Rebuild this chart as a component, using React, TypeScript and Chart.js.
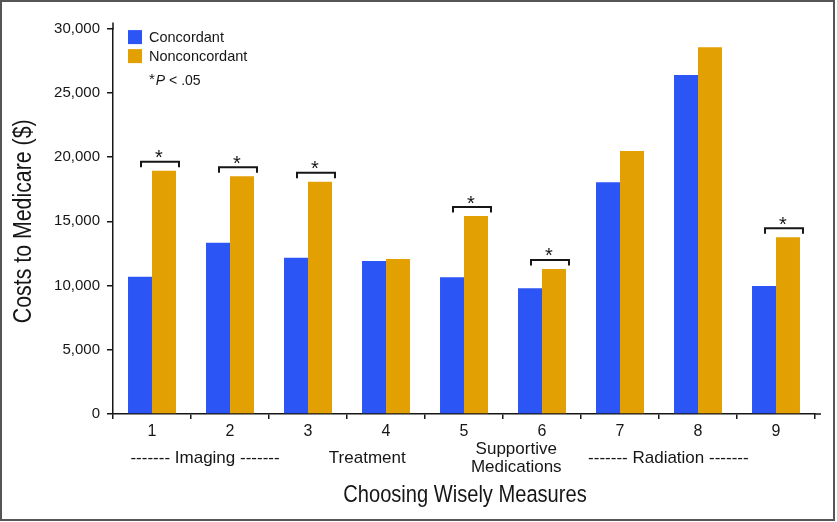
import React, { useEffect, useRef } from "react";
import { Chart, registerables } from "chart.js";
Chart.register(...registerables);

const categories = ["1", "2", "3", "4", "5", "6", "7", "8", "9"];
const concordant = [10690, 13330, 12170, 11910, 10640, 9780, 18040, 26390, 9960];
const nonconcordant = [18940, 18500, 18080, 12070, 15410, 11290, 20470, 28540, 13750];
const significant = [true, true, true, false, true, true, false, false, true];
const yTicks = [0, 5000, 10000, 15000, 20000, 25000, 30000];
const seriesNames = ["Concordant", "Nonconcordant"];
const groupLabels = [["------- Imaging -------"], ["Treatment"], ["Supportive", "Medications"], ["------- Radiation -------"]];
const xTitle = "Choosing Wisely Measures";
const yTitle = "Costs to Medicare ($)";

// layout (category-unit anchors for group labels)
const groupAnchors = [0.68, 2.76, 4.67, 6.62];

const BLUE = "#2C55F5";
const ORANGE = "#E3A002";
const INK = "#161616";
const SANS = "'Liberation Sans', Arial, Helvetica, sans-serif";

function narrowText(ctx: CanvasRenderingContext2D, text: string, x: number, y: number, size: number, rot: number) {
  ctx.save();
  ctx.translate(x, y);
  ctx.rotate(rot);
  ctx.scale(0.82, 1);
  ctx.font = `${size}px ${SANS}`;
  ctx.textAlign = "center";
  ctx.textBaseline = "middle";
  ctx.fillStyle = INK;
  ctx.fillText(text, 0, 0);
  ctx.restore();
}

const overlay = {
  id: "overlay",
  afterDraw(chart: any) {
    const ctx = chart.ctx as CanvasRenderingContext2D;
    const { left, right, top, bottom } = chart.chartArea;
    const xs = chart.scales.x;
    ctx.save();
    // axis line extensions
    ctx.strokeStyle = INK;
    ctx.lineWidth = 1.5;
    ctx.beginPath();
    ctx.moveTo(left, top + 1);
    ctx.lineTo(left, top - 6);
    ctx.moveTo(right - 1, bottom);
    ctx.lineTo(right + 6, bottom);
    ctx.stroke();

    // significance brackets
    const m0 = chart.getDatasetMeta(0);
    const m1 = chart.getDatasetMeta(1);
    significant.forEach((s, i) => {
      if (!s) return;
      const b = m0.data[i] as any;
      const o = m1.data[i] as any;
      const x1 = b.x + 1;
      const x2 = o.x + o.width / 2 + 3;
      const yl = o.y - 9;
      ctx.strokeStyle = INK;
      ctx.lineWidth = 2;
      ctx.beginPath();
      ctx.moveTo(x1, yl + 5.5);
      ctx.lineTo(x1, yl);
      ctx.lineTo(x2, yl);
      ctx.lineTo(x2, yl + 5.5);
      ctx.stroke();
      ctx.fillStyle = INK;
      ctx.font = `20px ${SANS}`;
      ctx.textAlign = "center";
      ctx.textBaseline = "alphabetic";
      ctx.fillText("*", (x1 + x2) / 2 - 1, yl - 9 + 11.5);
    });

    // legend
    const colors = [BLUE, ORANGE];
    ctx.textAlign = "left";
    ctx.textBaseline = "middle";
    ctx.font = `14.5px ${SANS}`;
    seriesNames.forEach((n, k) => {
      const sy = top + 1.5 + k * 19;
      ctx.fillStyle = colors[k];
      ctx.fillRect(left + 15, sy, 14, 14);
      ctx.fillStyle = INK;
      ctx.fillText(n, left + 36, sy + 7.5);
    });
    // *P < .05
    let px = left + 36;
    const py = top + 52.5;
    ctx.font = `15px ${SANS}`;
    ctx.fillText("*", px, py - 1);
    px += ctx.measureText("*").width + 1;
    ctx.font = `italic 14px ${SANS}`;
    ctx.fillText("P", px, py);
    px += ctx.measureText("P").width;
    ctx.font = `14px ${SANS}`;
    ctx.fillText(" < .05", px, py);

    // group labels under categories
    ctx.textAlign = "center";
    ctx.font = `17px ${SANS}`;
    groupLabels.forEach((lines, g) => {
      const gx = xs.getPixelForValue(groupAnchors[g]);
      if (lines.length === 1) {
        ctx.fillText(lines[0], gx, bottom + 44);
      } else {
        ctx.fillText(lines[0], gx, bottom + 35);
        ctx.fillText(lines[1], gx, bottom + 53);
      }
    });

    // axis titles (condensed)
    narrowText(ctx, xTitle, (left + right) / 2 + 1, bottom + 81, 24.5, 0);
    narrowText(ctx, yTitle, 24, (top + bottom) / 2, 26, -Math.PI / 2);

    // frame
    ctx.strokeStyle = "#555";
    ctx.lineWidth = 2;
    ctx.strokeRect(1, 1, 833, 519);
    ctx.restore();
  },
};

export default function App() {
  const ref = useRef<HTMLCanvasElement | null>(null);
  useEffect(() => {
    document.body.style.margin = "0";
    const chart = new Chart(ref.current as HTMLCanvasElement, {
      type: "bar",
      data: {
        labels: categories,
        datasets: [
          { label: seriesNames[0], data: concordant, backgroundColor: BLUE, borderWidth: 0 },
          { label: seriesNames[1], data: nonconcordant, backgroundColor: ORANGE, borderWidth: 0 },
        ],
      },
      options: {
        animation: false,
        responsive: false,
        devicePixelRatio: 1,
        layout: { padding: { left: 0, top: 28.6, right: 22, bottom: 0 } },
        plugins: { legend: { display: false }, tooltip: { enabled: false } },
        datasets: { bar: { categoryPercentage: 0.615, barPercentage: 1 } },
        scales: {
          x: {
            offset: true,
            grid: { offset: true, drawOnChartArea: false, drawTicks: true, tickLength: 5, color: INK, lineWidth: 1.5 },
            border: { display: true, color: INK, width: 1.5 },
            ticks: { color: INK, font: { family: SANS, size: 16 }, padding: 3, maxRotation: 0 },
            afterFit: (s: any) => {
              s.height = 108;
            },
          },
          y: {
            min: 0,
            max: 30000,
            afterBuildTicks: (s: any) => {
              s.ticks = yTicks.map((v) => ({ value: v }));
            },
            grid: { drawOnChartArea: false, drawTicks: true, tickLength: 6, color: INK, lineWidth: 1.5 },
            border: { display: true, color: INK, width: 1.5 },
            ticks: {
              color: INK,
              font: { family: SANS, size: 15 },
              padding: 7,
              callback: (v: any) => Number(v).toLocaleString("en-US"),
            },
            afterFit: (s: any) => {
              s.width = 113;
            },
          },
        },
      },
      plugins: [overlay],
    });
    return () => chart.destroy();
  }, []);
  return (
    <div style={{ width: 837, height: 522 }}>
      <canvas ref={ref} width={837} height={522} />
    </div>
  );
}
